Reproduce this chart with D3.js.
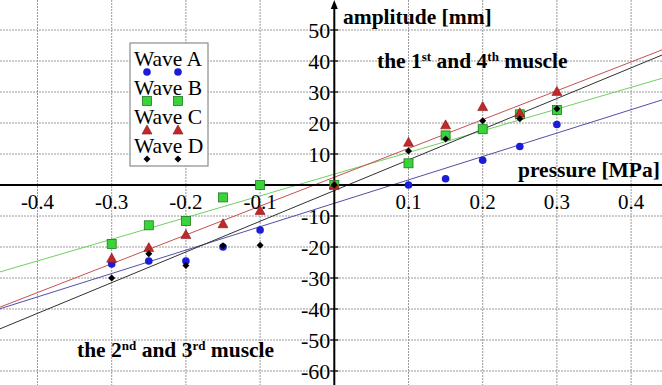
<!DOCTYPE html>
<html>
<head>
<meta charset="utf-8">
<script src="https://cdn.jsdelivr.net/npm/d3@7"></script>
<style>
  body { margin: 0; background: #fff; }
  .grid line { stroke: #9a9a9a; stroke-width: 1; stroke-dasharray: 2,1; }
</style>
</head>
<body>
<div id="chart"></div>
<script>
// pressure values (MPa)
const pressure = [-0.3, -0.25, -0.2, -0.15, -0.1, 0, 0.1, 0.15, 0.2, 0.25, 0.3];

// amplitude values (mm) for each wave
const waveA = [-25.5, -24.5, -24.5, -20, -14.5, 0, 0, 2, 8, 12.4, 19.5];
const waveB = [-19, -13, -11.6, -4, 0, 0, 7, 16, 18, 22.8, 24.2];
const waveC = [-23.6, -20.2, -16, -12.5, -8.2, 0, 13.8, 19.4, 25.3, 23.3, 30.2];
const waveD = [-30, -22.2, -26, -19.6, -19.4, 0, 11, 14.8, 20.7, 21.4, 24.6];

// trend lines: slope and intercept
const trendSlope = [75.5, 70, 93, 99];
const trendIntercept = [-5.9, 3.5, 2.5, -1.8];

const seriesNames = ['Wave A', 'Wave B', 'Wave C', 'Wave D'];
const xTicks = [-0.4, -0.3, -0.2, -0.1, 0.1, 0.2, 0.3, 0.4];
const yTicks = [-60, -50, -40, -30, -20, -10, 10, 20, 30, 40, 50];

const width = 662, height = 385;
const serif = "'Liberation Serif', 'Times New Roman', serif";

const svg = d3.select('#chart').append('svg')
    .attr('width', width)
    .attr('height', height)
    .attr('font-family', serif);

const x = d3.scaleLinear().domain([-0.45, 0.45]).range([0.4, 668.2]);
const y = d3.scaleLinear().domain([-60, 50]).range([371, 30]);

// grid
const grid = svg.append('g').attr('class', 'grid');
grid.selectAll('.vx')
    .data(xTicks)
    .enter().append('line')
    .attr('x1', d => x(d)).attr('x2', d => x(d))
    .attr('y1', 0).attr('y2', height);
grid.selectAll('.hy')
    .data(yTicks)
    .enter().append('line')
    .attr('x1', 0).attr('x2', width)
    .attr('y1', d => y(d)).attr('y2', d => y(d));

// trend lines
const lineColors = ['#5050a8', '#70d060', '#c85050', '#303030'];
const xEnds = [-0.46, 0.46];
trendSlope.forEach(function(m, i) {
    const pts = xEnds.map(v => [x(v), y(m * v + trendIntercept[i])]);
    svg.append('path')
        .attr('d', d3.line()(pts))
        .attr('fill', 'none')
        .attr('stroke', lineColors[i])
        .attr('stroke-width', 1);
});

// axes
svg.append('line')
    .attr('x1', 0).attr('x2', width)
    .attr('y1', y(0)).attr('y2', y(0))
    .attr('stroke', '#000').attr('stroke-width', 2);
svg.append('line')
    .attr('x1', x(0)).attr('x2', x(0))
    .attr('y1', 6).attr('y2', height)
    .attr('stroke', '#000').attr('stroke-width', 2);
svg.append('path')
    .attr('d', 'M' + (x(0) - 3.5) + ',9L' + x(0) + ',0L' + (x(0) + 3.5) + ',9Z')
    .attr('fill', '#000');

// y ticks and labels
svg.selectAll('.ytick')
    .data(yTicks)
    .enter().append('line')
    .attr('x1', x(0) - 4).attr('x2', x(0) + 4)
    .attr('y1', d => y(d)).attr('y2', d => y(d))
    .attr('stroke', '#000').attr('stroke-width', 1.2);
svg.selectAll('.ylab')
    .data(yTicks)
    .enter().append('text')
    .attr('x', x(0) - 4)
    .attr('y', d => y(d))
    .attr('dy', '0.38em')
    .attr('text-anchor', 'end')
    .style('font-size', '22px')
    .text(d => d < 0 ? '-' + Math.abs(d) : d);

// x labels
svg.selectAll('.xlab')
    .data(xTicks)
    .enter().append('text')
    .attr('x', d => x(d))
    .attr('y', y(0) + 24)
    .attr('text-anchor', 'middle')
    .style('font-size', '21px')
    .text(d => d < 0 ? '-' + Math.abs(d) : d);

// markers
const waves = [waveA, waveB, waveC, waveD];
function drawMarker(g, i, cx, cy) {
    if (i === 0) {
        g.append('circle').attr('cx', cx).attr('cy', cy).attr('r', 3.8)
            .attr('fill', '#1c1cd6');
    } else if (i === 1) {
        g.append('rect').attr('x', cx - 4.5).attr('y', cy - 4.5)
            .attr('width', 9).attr('height', 9)
            .attr('fill', '#3ad43a').attr('stroke', '#1d7a1d').attr('stroke-width', 0.8);
    } else if (i === 2) {
        g.append('path')
            .attr('d', 'M' + cx + ',' + (cy - 5) + 'L' + (cx + 5) + ',' + (cy + 4) + 'L' + (cx - 5) + ',' + (cy + 4) + 'Z')
            .attr('fill', '#c0282a').attr('stroke', '#8a1414').attr('stroke-width', 0.6);
    } else {
        g.append('path')
            .attr('d', 'M' + cx + ',' + (cy - 3.5) + 'L' + (cx + 3.5) + ',' + cy + 'L' + cx + ',' + (cy + 3.5) + 'L' + (cx - 3.5) + ',' + cy + 'Z')
            .attr('fill', '#000');
    }
}
const marks = svg.append('g');
waves.forEach(function(w, i) {
    w.forEach(function(v, j) {
        drawMarker(marks, i, x(pressure[j]), y(v));
    });
});

// legend
const legend = svg.append('g');
legend.append('rect')
    .attr('x', 130).attr('y', 43)
    .attr('width', 78).attr('height', 123)
    .attr('fill', '#fff').attr('stroke', '#8c8c8c').attr('stroke-width', 1.2);
seriesNames.forEach(function(name, i) {
    legend.append('text')
        .attr('x', 134).attr('y', 66 + i * 29)
        .style('font-size', '21.5px')
        .text(name);
    drawMarker(legend, i, 147, 72 + i * 29);
    drawMarker(legend, i, 178, 72 + i * 29);
});

// annotations
svg.append('text')
    .attr('x', 343).attr('y', 24)
    .style('font-size', '21.5px').style('font-weight', 'bold')
    .text('amplitude [mm]');
svg.append('text')
    .attr('x', 518).attr('y', 177)
    .style('font-size', '21.5px').style('font-weight', 'bold')
    .text('pressure [MPa]');

function muscleLabel(xPos, yPos, parts) {
    const t = svg.append('text')
        .attr('x', xPos).attr('y', yPos)
        .style('font-size', '21.5px').style('font-weight', 'bold');
    parts.forEach(function(p) {
        if (p.sup) {
            t.append('tspan').attr('dy', -7).style('font-size', '13px').text(p.s);
        } else {
            t.append('tspan').attr('dy', p.after ? 7 : 0).text(p.s);
        }
    });
}
muscleLabel(377, 68, [
    {s: 'the 1'}, {s: 'st', sup: true}, {s: ' and 4', after: true},
    {s: 'th', sup: true}, {s: ' muscle', after: true}
]);
muscleLabel(77, 357, [
    {s: 'the 2'}, {s: 'nd', sup: true}, {s: ' and 3', after: true},
    {s: 'rd', sup: true}, {s: ' muscle', after: true}
]);
</script>
</body>
</html>
